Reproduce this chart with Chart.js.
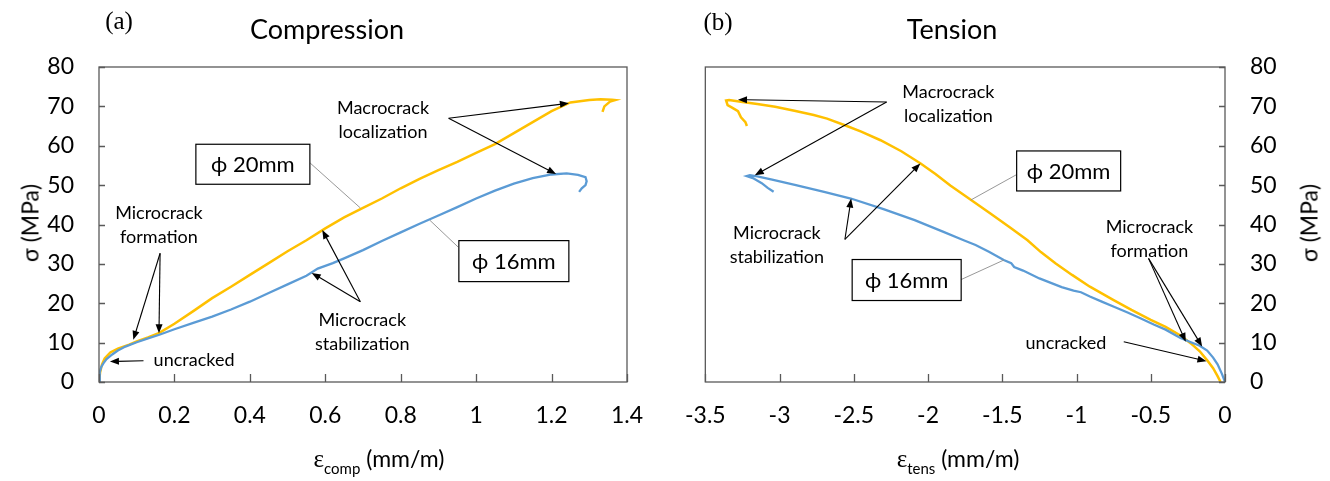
<!DOCTYPE html>
<html>
<head>
<meta charset="utf-8">
<script src="https://cdn.jsdelivr.net/npm/chart.js@4.4.1/dist/chart.umd.min.js"></script>
<style>
  html, body { margin: 0; padding: 0; background: #fff; }
  #wrap { position: relative; width: 1330px; height: 481px; overflow: hidden;
          font-family: Lato, "Open Sans", sans-serif; color: #000; }
  #wrap canvas { position: absolute; top: 0; }
  .t { position: absolute; white-space: nowrap; line-height: 1; transform: translate(-50%, -50%); }
  .panel { font-family: "Liberation Serif", serif; font-size: 25px; }
  .title { font-size: 27px; }
  .axt { font-size: 23px; }
  .rot { transform: translate(-50%, -50%) rotate(-90deg); }
  .eps { font-family: "Liberation Serif", serif; font-size: 25px; }
  .sub { font-size: 15px; position: relative; top: 7px; }
</style>
</head>
<body>
<div id="wrap">
  <canvas id="compChart" width="665" height="481" style="left:0px"></canvas>
  <canvas id="tensChart" width="665" height="481" style="left:665px"></canvas>

  <div class="t panel" style="left:119px; top:20px">(a)</div>
  <div class="t title" style="left:327px; top:28px">Compression</div>
  <div class="t axt rot" style="left:30px; top:223px">σ (MPa)</div>
  <div class="t axt" style="left:379px; top:458px"><span class="eps">ε</span><span class="sub">comp</span> (mm/m)</div>

  <div class="t panel" style="left:718px; top:21px">(b)</div>
  <div class="t title" style="left:952px; top:28px">Tension</div>
  <div class="t axt rot" style="left:1309px; top:223px">σ (MPa)</div>
  <div class="t axt" style="left:958px; top:458px"><span class="eps">ε</span><span class="sub">tens</span> (mm/m)</div>
</div>

<script>
// ---- Compression test, specimen φ 20mm (strain mm/m, stress MPa)
const compStrain20 = [0, 0.003, 0.008, 0.015, 0.03, 0.05, 0.08, 0.1, 0.13, 0.16, 0.2, 0.25, 0.3, 0.35, 0.4,
  0.45, 0.5, 0.55, 0.6, 0.65, 0.7, 0.75, 0.8, 0.85, 0.9, 0.95, 1.0, 1.05, 1.1, 1.15, 1.2, 1.25, 1.3, 1.33,
  1.36, 1.369, 1.355, 1.34, 1.335];
const compStress20 = [0, 2.5, 4.5, 6, 7.5, 8.5, 9.5, 10.3, 11.3, 12.5, 14.8, 18, 21.3, 24.2, 27.2,
  30.2, 33.2, 36, 39, 41.8, 44.2, 46.6, 49.2, 51.6, 53.8, 55.9, 58.2, 60.4, 63.2, 66, 68.8, 71, 71.6, 71.8,
  71.7, 71.6, 71.2, 70, 68.6];

// ---- Compression test, specimen φ 16mm
const compStrain16 = [0, 0.002, 0.006, 0.012, 0.02, 0.035, 0.05, 0.07, 0.1, 0.13, 0.16, 0.2, 0.25, 0.3, 0.35,
  0.4, 0.45, 0.5, 0.55, 0.58, 0.6, 0.62, 0.65, 0.7, 0.75, 0.8, 0.85, 0.9, 0.95, 1.0, 1.05, 1.1, 1.15, 1.2,
  1.24, 1.27, 1.29, 1.293, 1.29, 1.28, 1.273];
const compStress16 = [0, 2.5, 3.8, 4.8, 5.8, 7, 8, 9, 10.1, 11.1, 12, 13.4, 15, 16.6, 18.4,
  20.4, 22.6, 24.8, 27, 28.8, 29.5, 30.2, 31.4, 33.5, 35.8, 38, 40.2, 42.3, 44.4, 46.6, 48.6, 50.4, 51.8, 52.7,
  53, 52.6, 52, 51, 50, 49.2, 48.3];

// ---- Tension test, specimen φ 20mm
const tensStrain20 = [-0.03, -0.05, -0.08, -0.12, -0.17, -0.23, -0.3, -0.4, -0.5, -0.63, -0.75, -0.91, -1.03,
  -1.14, -1.24, -1.33, -1.45, -1.58, -1.71, -1.85, -1.95, -2.05, -2.18, -2.32, -2.45, -2.56, -2.68, -2.77,
  -2.9, -3.03, -3.15, -3.25, -3.34, -3.36, -3.35, -3.32, -3.28, -3.26, -3.23, -3.22];
const tensStress20 = [0, 1.5, 3.5, 5.5, 7.8, 9.8, 11.8, 14, 15.8, 18.3, 20.8, 24.2, 27.2,
  30.1, 33, 36, 39.3, 42.8, 46.2, 49.9, 52.8, 55.5, 58.6, 61.4, 63.6, 65.2, 66.9, 67.8,
  68.9, 69.9, 70.6, 71.1, 71.6, 71.5, 70.3, 69.7, 68.8, 67.2, 66, 65];

// ---- Tension test, specimen φ 16mm
const tensStrain16 = [0, -0.02, -0.05, -0.08, -0.12, -0.17, -0.23, -0.3, -0.4, -0.48, -0.57, -0.66, -0.74,
  -0.83, -0.91, -0.97, -1.02, -1.1, -1.25, -1.36, -1.42, -1.44, -1.49, -1.59, -1.68, -1.76, -1.9, -2.09,
  -2.3, -2.52, -2.7, -2.89, -3.05, -3.15, -3.2, -3.22, -3.18, -3.12, -3.08, -3.04];
const tensStress16 = [0, 2, 4.5, 6.2, 8, 9.2, 10.1, 11.2, 13.3, 14.6, 16.2, 17.7, 19,
  20.4, 21.7, 22.8, 23.2, 24.1, 26.3, 28.3, 29.2, 30.2, 31, 33.1, 34.8, 36, 38.2, 41.1,
  43.9, 46.6, 48.3, 50, 51.4, 52.2, 52.5, 52.3, 51.8, 50.5, 49.3, 48.3];

// ---- Tick labels
const compStrainTicks = [0, 0.2, 0.4, 0.6, 0.8, 1, 1.2, 1.4];
const tensStrainTicks = [-3.5, -3, -2.5, -2, -1.5, -1, -0.5, 0];
const stressTicks = [0, 10, 20, 30, 40, 50, 60, 70, 80];

const YELLOW = '#FFC000';
const BLUE = '#5B9BD5';
const FONT = 'Lato, "Open Sans", sans-serif';

// Annotations, anchored in data coordinates (strain, stress)
const compNotes = {
  texts: [
    { at: [0.753, 69.5], lines: ['Macrocrack', 'localization'] },
    { at: [0.159, 43.0], lines: ['Microcrack', 'formation'] },
    { at: [0.252, 5.6],  lines: ['uncracked'] },
    { at: [0.698, 15.7], lines: ['Microcrack', 'stabilization'] }
  ],
  arrows: [
    { from: [0.927, 67.0], to: [1.246, 70.8] },
    { from: [0.927, 67.0], to: [1.212, 52.8] },
    { from: [0.162, 32.7], to: [0.091, 10.7] },
    { from: [0.162, 32.7], to: [0.159, 12.4] },
    { from: [0.118, 5.4],  to: [0.029, 5.2] },
    { from: [0.693, 20.4], to: [0.592, 38.6] },
    { from: [0.693, 20.4], to: [0.564, 27.7] }
  ],
  boxes: [
    { at: [0.408, 55.3], text: 'ϕ 20mm', w: 114, h: 40, leader: [[0.56, 55.6], [0.693, 44.2]] },
    { at: [1.1, 30.7],   text: 'ϕ 16mm', w: 110, h: 41, leader: [[0.952, 34.3], [0.877, 41.1]] }
  ]
};

const tensNotes = {
  texts: [
    { at: [-1.863, 73.7], lines: ['Macrocrack', 'localization'] },
    { at: [-3.018, 37.7], lines: ['Microcrack', 'stabilization'] },
    { at: [-0.509, 39.4], lines: ['Microcrack', 'formation'] },
    { at: [-1.071, 9.8],  lines: ['uncracked'] }
  ],
  arrows: [
    { from: [-2.279, 71.1], to: [-3.28, 71.7] },
    { from: [-2.279, 71.1], to: [-3.167, 52.5] },
    { from: [-2.56, 36.2],  to: [-2.518, 46.6] },
    { from: [-2.56, 36.2],  to: [-2.052, 55.5] },
    { from: [-0.515, 31.4], to: [-0.264, 10.2] },
    { from: [-0.515, 31.4], to: [-0.154, 9.0] },
    { from: [-0.682, 10.2], to: [-0.125, 5.3] }
  ],
  boxes: [
    { at: [-1.053, 53.6], text: 'ϕ 20mm', w: 104, h: 40, leader: [[-1.388, 53.0], [-1.713, 46.2]] },
    { at: [-2.144, 25.9], text: 'ϕ 16mm', w: 109, h: 41, leader: [[-1.784, 25.9], [-1.488, 31.0]] }
  ]
};

function pairs(xs, ys) { return xs.map((x, i) => ({ x: x, y: ys[i] })); }

function drawArrow(ctx, x1, y1, x2, y2) {
  const a = Math.atan2(y2 - y1, x2 - x1), L = 9, W = 3.5;
  ctx.beginPath();
  ctx.moveTo(x1, y1);
  ctx.lineTo(x2 - 0.8 * L * Math.cos(a), y2 - 0.8 * L * Math.sin(a));
  ctx.stroke();
  ctx.beginPath();
  ctx.moveTo(x2, y2);
  ctx.lineTo(x2 - L * Math.cos(a) + W * Math.sin(a), y2 - L * Math.sin(a) - W * Math.cos(a));
  ctx.lineTo(x2 - L * Math.cos(a) - W * Math.sin(a), y2 - L * Math.sin(a) + W * Math.cos(a));
  ctx.closePath();
  ctx.fill();
}

// Frame, inward tick marks and annotations drawn on top of the curves
function framePlugin(notes, yside) {
  return {
    id: 'frameNotes',
    afterDatasetsDraw(chart) {
      const { ctx, chartArea: ca, scales } = chart;
      const X = v => scales.x.getPixelForValue(v);
      const Y = v => scales.y.getPixelForValue(v);
      ctx.save();
      // plot frame
      ctx.strokeStyle = '#595959';
      ctx.lineWidth = 1.3;
      ctx.strokeRect(ca.left, ca.top, ca.right - ca.left, ca.bottom - ca.top);
      // inward ticks
      ctx.beginPath();
      scales.x.ticks.forEach(t => {
        const px = Math.round(X(t.value)) + 0.5;
        ctx.moveTo(px, ca.bottom); ctx.lineTo(px, ca.bottom - 8);
      });
      scales.y.ticks.forEach(t => {
        const py = Math.round(Y(t.value)) + 0.5;
        if (yside === 'left') { ctx.moveTo(ca.left, py); ctx.lineTo(ca.left + 6, py); }
        else { ctx.moveTo(ca.right, py); ctx.lineTo(ca.right - 6, py); }
      });
      ctx.stroke();

      // leader lines of the specimen labels
      ctx.strokeStyle = '#8c8c8c';
      ctx.lineWidth = 0.9;
      notes.boxes.forEach(b => {
        ctx.beginPath();
        ctx.moveTo(X(b.leader[0][0]), Y(b.leader[0][1]));
        ctx.lineTo(X(b.leader[1][0]), Y(b.leader[1][1]));
        ctx.stroke();
      });

      // arrows
      ctx.strokeStyle = '#000';
      ctx.fillStyle = '#000';
      ctx.lineWidth = 1.1;
      notes.arrows.forEach(a => drawArrow(ctx, X(a.from[0]), Y(a.from[1]), X(a.to[0]), Y(a.to[1])));

      // specimen label boxes
      notes.boxes.forEach(b => {
        const cx = X(b.at[0]), cy = Y(b.at[1]);
        ctx.fillStyle = '#fff';
        ctx.fillRect(cx - b.w / 2, cy - b.h / 2, b.w, b.h);
        ctx.strokeStyle = '#000';
        ctx.lineWidth = 1.2;
        ctx.strokeRect(cx - b.w / 2, cy - b.h / 2, b.w, b.h);
        ctx.fillStyle = '#000';
        ctx.font = '22px ' + FONT;
        ctx.textAlign = 'center';
        ctx.textBaseline = 'middle';
        ctx.fillText(b.text, cx, cy + 1);
      });

      // text notes
      ctx.fillStyle = '#000';
      ctx.font = '18px ' + FONT;
      ctx.textAlign = 'center';
      ctx.textBaseline = 'middle';
      notes.texts.forEach(t => {
        const cx = X(t.at[0]), cy = Y(t.at[1]);
        t.lines.forEach((line, i) => ctx.fillText(line, cx, cy + i * 24));
      });
      ctx.restore();
    }
  };
}

function makeChart(id, cfg) {
  const tickFont = { family: FONT, size: 23 };
  return new Chart(document.getElementById(id), {
    type: 'line',
    data: {
      datasets: [
        { data: pairs(cfg.s16, cfg.y16), borderColor: BLUE, borderWidth: 2.3, pointRadius: 0, tension: 0, fill: false },
        { data: pairs(cfg.s20, cfg.y20), borderColor: YELLOW, borderWidth: 2.5, pointRadius: 0, tension: 0, fill: false }
      ]
    },
    options: {
      responsive: false,
      animation: false,
      events: [],
      layout: { padding: cfg.padding },
      plugins: { legend: { display: false }, tooltip: { enabled: false } },
      scales: {
        x: {
          type: 'linear',
          min: cfg.xTicks[0], max: cfg.xTicks[cfg.xTicks.length - 1],
          afterBuildTicks: s => { s.ticks = cfg.xTicks.map(v => ({ value: v })); },
          afterFit: s => { s.height = 99; },
          grid: { display: false, drawTicks: false },
          border: { display: false },
          ticks: { padding: 20, font: tickFont, color: '#000', maxRotation: 0, autoSkip: false,
                   callback: v => String(v) }
        },
        y: {
          position: cfg.yside,
          min: 0, max: 80,
          afterBuildTicks: s => { s.ticks = stressTicks.map(v => ({ value: v })); },
          afterFit: s => { s.width = cfg.yWidth; },
          grid: { display: false, drawTicks: false },
          border: { display: false },
          ticks: { padding: 25, font: tickFont, color: '#000', callback: v => String(v) }
        }
      }
    },
    plugins: [framePlugin(cfg.notes, cfg.yside)]
  });
}

Chart.defaults.font.family = FONT;

makeChart('compChart', {
  s20: compStrain20, y20: compStress20, s16: compStrain16, y16: compStress16,
  xTicks: compStrainTicks, yside: 'left', yWidth: 99,
  padding: { top: 67, right: 38, left: 0, bottom: 0 },
  notes: compNotes
});

makeChart('tensChart', {
  s20: tensStrain20, y20: tensStress20, s16: tensStrain16, y16: tensStress16,
  xTicks: tensStrainTicks, yside: 'right', yWidth: 105,
  padding: { top: 67, right: 0, left: 30, bottom: 0 },
  notes: tensNotes
});
</script>
</body>
</html>
